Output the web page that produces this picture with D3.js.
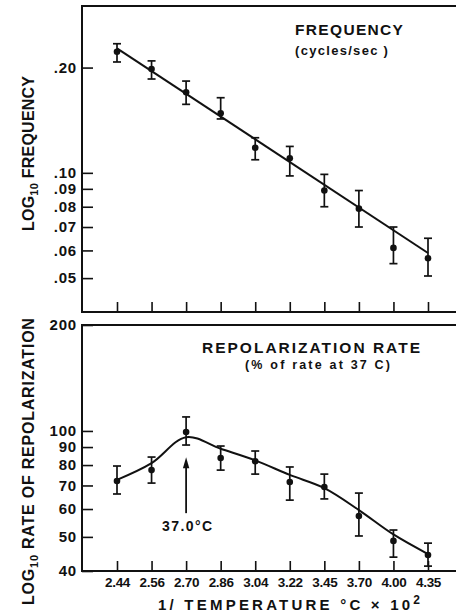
<!DOCTYPE html>
<html>
<head>
<meta charset="utf-8">
<script src="https://cdn.jsdelivr.net/npm/d3@7"></script>
<style>
  html, body { margin: 0; padding: 0; background: #fff; }
  svg { display: block; }
  text { font-family: "Liberation Sans", Arial, Helvetica, sans-serif; font-weight: bold; fill: #111; }
</style>
</head>
<body>
<script>
// ---------- data ----------
const categories = ["2.44", "2.56", "2.70", "2.86", "3.04", "3.22", "3.45", "3.70", "4.00", "4.35"];

// Top panel: frequency (cycles/sec)
const freqMean = [0.222, 0.198, 0.170, 0.148, 0.118, 0.110, 0.089, 0.079, 0.061, 0.057];
const freqHigh = [0.234, 0.209, 0.183, 0.164, 0.126, 0.119, 0.099, 0.089, 0.070, 0.065];
const freqLow  = [0.2075, 0.1855, 0.157, 0.1426, 0.109, 0.098, 0.080, 0.070, 0.055, 0.0507];
const freqFitEnds = [0.227, 0.059];           // regression line at first / last category
const freqTicks = [0.20, 0.10, 0.09, 0.08, 0.07, 0.06, 0.05];
const freqTickLabels = [".20", ".10", ".09", ".08", ".07", ".06", ".05"];
const freqDomain = [0.04, 0.30];

// Bottom panel: repolarization rate (% of rate at 37 C)
const rateMean = [72.1, 77.4, 99.3, 83.8, 82.0, 71.6, 69.3, 57.3, 48.7, 44.4];
const rateHigh = [79.5, 84.3, 109.6, 90.6, 87.7, 79.0, 75.4, 66.6, 52.3, 48.0];
const rateLow  = [66.2, 71.1, 91.2, 77.4, 75.4, 63.6, 64.1, 50.3, 43.8, 41.3];
const rateFit  = [72.6, 81.0, 96.0, 89.0, 82.5, 75.0, 68.8, 59.6, 50.8, 44.7];
const rateTicks = [200, 100, 90, 80, 70, 60, 50, 40];
const rateTickLabels = ["200", "100", "90", "80", "70", "60", "50", "40"];
const rateDomain = [40, 200];

const arrowCategory = "2.70";
const arrowFromTo = [58.4, 84.2];
const arrowLabel = "37.0°C";

const titleTop = "FREQUENCY";
const subtitleTop = "(cycles/sec )";
const titleBottom = "REPOLARIZATION RATE";
const subtitleBottom = "(% of rate at 37 C)";
const yLabelTop = ["LOG", "10", " FREQUENCY"];
const yLabelBottom = ["LOG", "10", " RATE OF REPOLARIZATION"];
const xLabel = ["1/ TEMPERATURE °C × 10", "2"];

// ---------- layout ----------
const W = 456, H = 614;
const left = 82, right = 456;
const top1 = 6, bot1 = 312;
const top2 = 325, bot2 = 571;
const ink = "#111";

const svg = d3.select("body").append("svg").attr("width", W).attr("height", H);

const x = d3.scalePoint().domain(categories).range([117, 428]);
const y1 = d3.scaleLog().domain(freqDomain).range([bot1, top1]);
const y2 = d3.scaleLog().domain(rateDomain).range([bot2, top2]);

function fitWidth(sel, target) {
  const node = sel.node();
  const n = node.textContent.length;
  const w = node.getComputedTextLength();
  sel.attr("letter-spacing", ((target - w) / Math.max(1, n - 1)).toFixed(2));
}

function frame(yTop, yBot) {
  const g = svg.append("g").attr("stroke", ink).attr("stroke-width", 2).attr("fill", "none");
  g.append("line").attr("x1", left).attr("x2", left).attr("y1", yTop - 1).attr("y2", yBot + 1);
  g.append("line").attr("x1", left).attr("x2", right).attr("y1", yTop).attr("y2", yTop);
  g.append("line").attr("x1", left).attr("x2", right).attr("y1", yBot).attr("y2", yBot);
}
frame(top1, bot1);
frame(top2, bot2);

function yAxis(scale, ticks, labels) {
  const g = svg.append("g").attr("transform", `translate(${left},0)`)
    .call(d3.axisLeft(scale).tickValues(ticks)
      .tickFormat((d, i) => labels[i])
      .tickSizeInner(-11).tickSizeOuter(0).tickPadding(5));
  g.select(".domain").remove();
  g.selectAll(".tick line").attr("stroke", ink).attr("stroke-width", 1.6);
  g.selectAll(".tick text").attr("font-size", 15).attr("letter-spacing", 0.8).attr("fill", ink);
  g.attr("font-family", null);
}
yAxis(y1, freqTicks, freqTickLabels);
yAxis(y2, rateTicks, rateTickLabels);

function xAxis(yPos, showLabels) {
  const g = svg.append("g").attr("transform", `translate(0,${yPos})`)
    .call(d3.axisBottom(x).tickSizeInner(-10).tickSizeOuter(0).tickPadding(6)
      .tickFormat(showLabels ? (d => d) : () => ""));
  g.select(".domain").remove();
  g.selectAll(".tick line").attr("stroke", ink).attr("stroke-width", 1.6);
  g.selectAll(".tick text").attr("font-size", 13.5).attr("letter-spacing", -0.3).attr("fill", ink);
  g.attr("font-family", null);
}
xAxis(bot1, false);
xAxis(bot2, true);

// ---------- error bars + points ----------
function errorBars(scale, mean, lo, hi) {
  const g = svg.append("g").attr("stroke", ink).attr("stroke-width", 1.7).attr("fill", "none");
  categories.forEach((c, i) => {
    const cx = x(c);
    g.append("line").attr("x1", cx).attr("x2", cx).attr("y1", scale(hi[i])).attr("y2", scale(lo[i]));
    g.append("line").attr("x1", cx - 4).attr("x2", cx + 4).attr("y1", scale(hi[i])).attr("y2", scale(hi[i]));
    g.append("line").attr("x1", cx - 4).attr("x2", cx + 4).attr("y1", scale(lo[i])).attr("y2", scale(lo[i]));
  });
  svg.append("g").selectAll("circle").data(mean).join("circle")
    .attr("cx", (d, i) => x(categories[i])).attr("cy", d => scale(d))
    .attr("r", 3.3).attr("fill", ink);
}
errorBars(y1, freqMean, freqLow, freqHigh);
errorBars(y2, rateMean, rateLow, rateHigh);

// regression line (top)
svg.append("path")
  .datum([[categories[0], freqFitEnds[0]], [categories[categories.length - 1], freqFitEnds[1]]])
  .attr("d", d3.line().x(d => x(d[0])).y(d => y1(d[1])))
  .attr("stroke", ink).attr("stroke-width", 2).attr("fill", "none");

// smooth curve (bottom)
svg.append("path")
  .datum(rateFit)
  .attr("d", d3.line().x((d, i) => x(categories[i])).y(d => y2(d)).curve(d3.curveCatmullRom.alpha(0.5)))
  .attr("stroke", ink).attr("stroke-width", 2).attr("fill", "none");

// arrow annotation
const ax = x(arrowCategory);
const yTail = y2(arrowFromTo[0]), yTip = y2(arrowFromTo[1]);
svg.append("line").attr("x1", ax).attr("x2", ax).attr("y1", yTail).attr("y2", yTip + 8)
  .attr("stroke", ink).attr("stroke-width", 1.8);
svg.append("path")
  .attr("d", `M${ax},${yTip} L${ax - 3.2},${yTip + 11} L${ax + 3.2},${yTip + 11} Z`)
  .attr("fill", ink);
const al = svg.append("text").attr("x", 162).attr("y", yTail + 18).attr("font-size", 14).text(arrowLabel);
fitWidth(al, 50);

// ---------- titles ----------
const t1 = svg.append("text").attr("x", 295).attr("y", 35).attr("font-size", 15.5).text(titleTop);
fitWidth(t1, 108);
const s1 = svg.append("text").attr("x", 295).attr("y", 55).attr("font-size", 13).text(subtitleTop);
fitWidth(s1, 93);
const t2 = svg.append("text").attr("x", 202).attr("y", 353).attr("font-size", 15.5).text(titleBottom);
fitWidth(t2, 218);
const s2 = svg.append("text").attr("x", 245).attr("y", 369).attr("font-size", 12.5).text(subtitleBottom);
fitWidth(s2, 145);

// ---------- axis labels ----------
function yLabel(parts, bottomY, target) {
  const t = svg.append("text").attr("transform", `translate(34,${bottomY}) rotate(-90)`).attr("font-size", 16);
  t.append("tspan").text(parts[0]);
  t.append("tspan").attr("font-size", 11).attr("dy", 4).text(parts[1]);
  t.append("tspan").attr("dy", -4).text(parts[2]);
  fitWidth(t, target);
}
yLabel(yLabelTop, 231, 155);
yLabel(yLabelBottom, 605, 287);

const xl = svg.append("text").attr("x", 158).attr("y", 610).attr("font-size", 15);
xl.append("tspan").text(xLabel[0]);
xl.append("tspan").attr("font-size", 12).attr("dy", -6).text(xLabel[1]);
fitWidth(xl, 262);
</script>
</body>
</html>
